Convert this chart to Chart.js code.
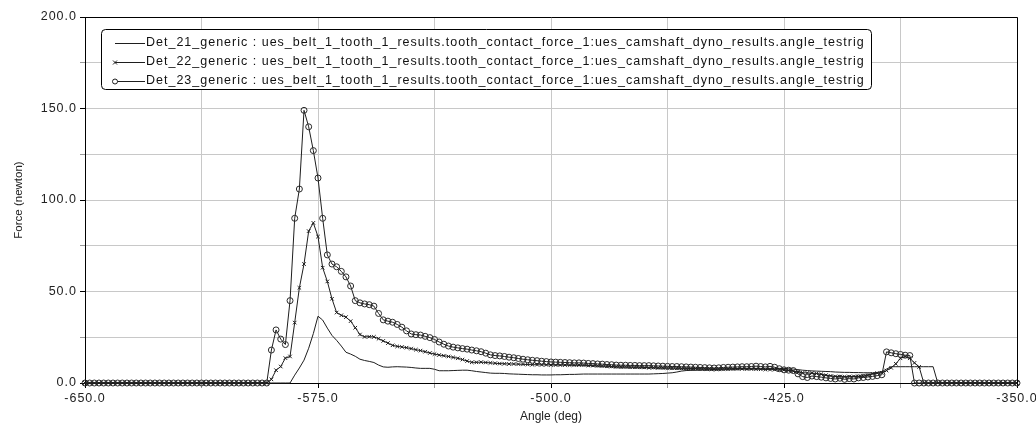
<!DOCTYPE html>
<html>
<head>
<meta charset="utf-8">
<script src="https://cdn.jsdelivr.net/npm/chart.js@4/dist/chart.umd.min.js"></script>
<style>
  html, body { margin: 0; padding: 0; background: #fff; }
  canvas { display: block; }
</style>
</head>
<body>
<canvas id="c" width="1036" height="430"></canvas>
<script>
// ---- data ----
const angles = [
  -650,-648.5,-647,-645.5,-644,-642.5,-641,-639.5,-638,-636.5,
  -635,-633.5,-632,-630.5,-629,-627.5,-626,-624.5,-623,-621.5,
  -620,-618.5,-617,-615.5,-614,-612.5,-611,-609.5,-608,-606.5,
  -605,-603.5,-602,-600.5,-599,-597.5,-596,-594.5,-593,-591.5,
  -590,-588.5,-587,-585.5,-584,-582.5,-581,-579.5,-578,-576.5,
  -575,-573.5,-572,-570.5,-569,-567.5,-566,-564.5,-563,-561.5,
  -560,-558.5,-557,-555.5,-554,-552.5,-551,-549.5,-548,-546.5,
  -545,-543.5,-542,-540.5,-539,-537.5,-536,-534.5,-533,-531.5,
  -530,-528.5,-527,-525.5,-524,-522.5,-521,-519.5,-518,-516.5,
  -515,-513.5,-512,-510.5,-509,-507.5,-506,-504.5,-503,-501.5,
  -500,-498.5,-497,-495.5,-494,-492.5,-491,-489.5,-488,-486.5,
  -485,-483.5,-482,-480.5,-479,-477.5,-476,-474.5,-473,-471.5,
  -470,-468.5,-467,-465.5,-464,-462.5,-461,-459.5,-458,-456.5,
  -455,-453.5,-452,-450.5,-449,-447.5,-446,-444.5,-443,-441.5,
  -440,-438.5,-437,-435.5,-434,-432.5,-431,-429.5,-428,-426.5,
  -425,-423.5,-422,-420.5,-419,-417.5,-416,-414.5,-413,-411.5,
  -410,-408.5,-407,-405.5,-404,-402.5,-401,-399.5,-398,-396.5,
  -395,-393.5,-392,-390.5,-389,-387.5,-386,-384.5,-383,-381.5,
  -380,-378.5,-377,-375.5,-374,-372.5,-371,-369.5,-368,-366.5,
  -365,-363.5,-362,-360.5,-359,-357.5,-356,-354.5,-353,-351.5,
  -350
];

const det21 = [
  0,0,0,0,0,0,0,0,0,0, 0,0,0,0,0,0,0,0,0,0,
  0,0,0,0,0,0,0,0,0,0, 0,0,0,0,0,0,0,0,0,0,
  0,0,0,0,0,4.3,8.2,12.5,19,27,
  36.5,34.4,30,26,23.3,20.2,16.8,15.8,14.6,13.0,
  12.3,11.8,11.2,9.8,8.8,8.6,8.8,8.9,8.8,8.7,
  8.5,8.2,8.0,8.0,8.0,7.5,6.7,6.7,6.7,6.8,
  6.9,7.0,7.0,6.7,6.3,6.0,5.7,5.4,5.3,5.3,
  5.2,5.0,4.9,4.8,4.7,4.6,4.5,4.5,4.4,4.4,
  4.4,4.5,4.5,4.6,4.7,4.7,4.8,4.9,4.9,4.9,
  4.9,4.9,4.9,4.9,4.9,4.9,4.9,4.9,4.9,4.9,
  4.9,4.9,5.0,5.1,5.2,5.4,5.6,6.0,6.5,6.8,
  6.9,7.0,7.1,7.2,7.3,7.4,7.5,7.6,7.7,7.8,
  7.9,8.0,8.0,8.0,8.0,8.0,8.0,8.0,8.0,8.0,
  8.0,7.8,7.6,7.3,7.0,6.8,6.6,6.5,6.4,6.3,
  6.2,6.0,5.9,5.8,5.8,5.7,5.7,5.6,5.6,5.5,
  5.8,6.2,7.6,8.9,8.9,8.9,8.9,8.9,8.9,8.9,
  8.9,8.9,8.9,0,0,0,0,0,0,0,
  0,0,0,0,0,0,0,0,0,0,
  0
];

const det22 = [
  0,0,0,0,0,0,0,0,0,0, 0,0,0,0,0,0,0,0,0,0,
  0,0,0,0,0,0,0,0,0,0, 0,0,0,0,0,0,0,0,0,0,
  2,7,9,13.6,14.5,33,52,65,83,87.5,
  80,63,55.5,46,38.5,37,36,33.8,30.2,26.5,
  25.2,25.3,25.2,24.2,23,21.8,20.6,20.0,19.7,19.3,
  18.8,18.2,17.7,17.1,16.4,15.8,15.3,14.9,14.5,14.0,
  13.5,12.8,12.0,11.3,11.3,11.4,11.2,11.0,10.8,10.6,
  10.5,10.4,10.4,10.3,10.2,10.1,10.0,10.0,9.9,9.9,
  9.8,9.8,9.8,9.8,9.8,9.8,9.8,9.8,9.6,9.5,
  9.4,9.3,9.2,9.0,8.9,8.8,8.8,8.7,8.6,8.6,
  8.5,8.4,8.4,8.3,8.3,8.2,8.2,8.1,8.0,8.0,
  7.9,7.9,7.8,7.8,7.8,7.7,7.7,7.7,7.7,7.7,
  7.7,7.7,7.6,7.6,7.5,7.5,7.4,7.3,7.3,7.2,
  7.1,6.8,6.4,6.0,5.6,5.5,5.4,5.2,4.8,4.3,
  3.9,3.6,3.5,3.4,3.5,3.6,3.5,3.7,4.2,5.0,
  5.4,5.6,6.8,8.3,10.5,13.5,14.5,13.5,11.0,8.8,
  0,0,0,0,0,0,0,0,0,0,
  0,0,0,0,0,0,0,0,0,0,
  0
];

const det23 = [
  0,0,0,0,0,0,0,0,0,0, 0,0,0,0,0,0,0,0,0,0,
  0,0,0,0,0,0,0,0,0,0, 0,0,0,0,0,0,0,0,0,0,
  18,29,24,21,45,90,106,149,140,127,
  112,90,70,65,63.5,61,58,53,45,43.8,
  43.2,42.8,42,38,34.5,33.8,33.2,32,30.5,28.5,
  26.8,26.4,26.2,25.5,24.8,23.8,22.4,21.2,20.2,19.6,
  19.2,18.8,18.5,18.0,17.6,17.1,16.3,15.4,15.0,14.8,
  14.5,14.1,13.8,13.4,13.0,12.7,12.4,12.2,11.9,11.7,
  11.5,11.4,11.3,11.2,11.1,11.0,11.0,10.9,10.7,10.6,
  10.4,10.3,10.1,10.0,9.8,9.7,9.7,9.6,9.6,9.5,
  9.5,9.5,9.4,9.3,9.2,9.1,9.0,9.0,8.9,8.8,
  8.7,8.6,8.5,8.4,8.3,8.2,8.3,8.5,8.6,8.7,
  8.8,8.9,8.9,9.0,9.2,9.0,8.8,9.1,8.6,7.8,
  7.2,7.0,6.8,5.0,3.5,3.0,3.8,3.5,3.2,2.8,
  2.5,2.2,2.6,2.0,2.4,2.2,2.8,3.0,3.3,3.6,
  4.0,4.5,17.0,16.5,16.0,15.6,15.2,15.0,0,0,
  0,0,0,0,0,0,0,0,0,0,
  0,0,0,0,0,0,0,0,0,0,
  0
];

const seriesLabels = [
  'Det_21_generic : ues_belt_1_tooth_1_results.tooth_contact_force_1:ues_camshaft_dyno_results.angle_testrig',
  'Det_22_generic : ues_belt_1_tooth_1_results.tooth_contact_force_1:ues_camshaft_dyno_results.angle_testrig',
  'Det_23_generic : ues_belt_1_tooth_1_results.tooth_contact_force_1:ues_camshaft_dyno_results.angle_testrig'
];
const xTickLabels = [-650, -575, -500, -425, -350];
const yTickLabels = [0, 50, 100, 150, 200];
const xTitle = 'Angle (deg)';
const yTitle = 'Force (newton)';

// ---- build ----
const toPts = vals => angles.map((a, i) => ({ x: a, y: vals[i] }));
const FONT = '"Liberation Sans", Arial, sans-serif';
const LINE = '#1e1e1e';
const SPACING = '1px';

const isLabeled = (v, list) => list.some(t => Math.abs(t - v) < 1e-6);

const frameLegend = {
  id: 'frameLegend',
  beforeDraw(chart) {
    // tick labels in the reference are drawn with a little letter spacing
    Object.values(chart.scales).forEach(s => {
      if (s._lsPatched) return;
      const orig = s.drawLabels.bind(s);
      s.drawLabels = function (area) {
        const c = this.ctx;
        c.save();
        c.letterSpacing = SPACING;
        orig(area);
        c.restore();
      };
      s._lsPatched = true;
    });
  },
  afterDraw(chart) {
    const c = chart.ctx;
    const a = chart.chartArea;
    c.save();
    // top and right frame
    c.strokeStyle = '#000';
    c.lineWidth = 1;
    c.beginPath();
    c.moveTo(Math.round(a.left) + 0.5, Math.round(a.top) + 0.5);
    c.lineTo(Math.round(a.right) + 0.5, Math.round(a.top) + 0.5);
    c.lineTo(Math.round(a.right) + 0.5, Math.round(a.bottom) + 0.5);
    c.stroke();

    // legend text metrics
    c.font = '12.5px ' + FONT;
    c.letterSpacing = SPACING;
    let maxW = 0;
    chart.data.datasets.forEach(ds => { maxW = Math.max(maxW, c.measureText(ds.label).width); });
    const textX = 146;

    // legend box
    const bx = 101.5, by = 29.5, bw = Math.round(textX + maxW + 6 - 101), bh = 60, r = 4;
    c.beginPath();
    c.moveTo(bx + r, by);
    c.lineTo(bx + bw - r, by);
    c.quadraticCurveTo(bx + bw, by, bx + bw, by + r);
    c.lineTo(bx + bw, by + bh - r);
    c.quadraticCurveTo(bx + bw, by + bh, bx + bw - r, by + bh);
    c.lineTo(bx + r, by + bh);
    c.quadraticCurveTo(bx, by + bh, bx, by + bh - r);
    c.lineTo(bx, by + r);
    c.quadraticCurveTo(bx, by, bx + r, by);
    c.closePath();
    c.fillStyle = '#fff';
    c.fill();
    c.strokeStyle = '#000';
    c.stroke();

    const rows = [43, 62, 81];
    chart.data.datasets.forEach((ds, i) => {
      const y = rows[i] + 0.5;
      c.strokeStyle = LINE;
      c.lineWidth = 1;
      c.beginPath();
      c.moveTo(115, y);
      c.lineTo(145, y);
      c.stroke();
      if (ds.pointStyle === 'crossRot') {
        c.beginPath();
        c.moveTo(113, y - 2); c.lineTo(117, y + 2);
        c.moveTo(113, y + 2); c.lineTo(117, y - 2);
        c.stroke();
      } else if (ds.pointStyle === 'circle' && ds.pointRadius > 0) {
        c.beginPath();
        c.arc(115, y, 2.5, 0, Math.PI * 2);
        c.fillStyle = '#fff';
        c.fill();
        c.stroke();
      }
      c.fillStyle = '#111';
      c.textBaseline = 'middle';
      c.textAlign = 'left';
      c.fillText(ds.label, textX, rows[i]);
    });
    c.restore();
  }
};

new Chart(document.getElementById('c'), {
  type: 'line',
  data: {
    datasets: [
      {
        label: seriesLabels[0],
        data: toPts(det21),
        borderColor: LINE, borderWidth: 1,
        pointRadius: 0, pointStyle: 'line',
        tension: 0, clip: false
      },
      {
        label: seriesLabels[1],
        data: toPts(det22),
        borderColor: LINE, borderWidth: 1,
        pointStyle: 'crossRot', pointRadius: 2.5,
        pointBorderColor: LINE, pointBorderWidth: 1,
        pointBackgroundColor: 'rgba(0,0,0,0)',
        tension: 0, clip: false
      },
      {
        label: seriesLabels[2],
        data: toPts(det23),
        borderColor: LINE, borderWidth: 1,
        pointStyle: 'circle', pointRadius: 3,
        pointBorderColor: '#2a2a2a', pointBorderWidth: 1,
        pointBackgroundColor: 'rgba(0,0,0,0)',
        tension: 0, clip: false
      }
    ]
  },
  options: {
    responsive: false,
    animation: false,
    devicePixelRatio: 1,
    events: [],
    layout: { padding: { top: 17, right: 19, left: 0, bottom: 0 } },
    plugins: {
      legend: { display: false },
      tooltip: { enabled: false }
    },
    font: { family: FONT },
    scales: {
      x: {
        type: 'linear',
        min: -650, max: -350,
        afterFit(s) { s.height = 47; s.paddingLeft = 0; s.paddingRight = 0; },
        ticks: {
          stepSize: 37.5,
          autoSkip: false,
          maxRotation: 0,
          padding: 3,
          color: '#222',
          font: { family: FONT, size: 12.5 },
          callback: v => isLabeled(v, xTickLabels) ? v.toFixed(1) : ''
        },
        grid: {
          color: '#c8c8c8',
          lineWidth: 1,
          tickLength: 5,
          tickColor: ctx => isLabeled(ctx.tick.value, xTickLabels) ? '#000' : '#999'
        },
        border: { display: true, color: '#000', width: 1 },
        title: {
          display: true, text: xTitle, color: '#222',
          font: { family: FONT, size: 12 },
          padding: { top: 0, bottom: 6 }
        }
      },
      y: {
        type: 'linear',
        min: 0, max: 200,
        afterFit(s) { s.width = 85; s.paddingTop = 0; s.paddingBottom = 0; },
        ticks: {
          stepSize: 25,
          autoSkip: false,
          padding: 3,
          color: '#222',
          font: { family: FONT, size: 12.5 },
          callback: v => isLabeled(v, yTickLabels) ? v.toFixed(1) : ''
        },
        grid: {
          color: '#c8c8c8',
          lineWidth: 1,
          tickLength: 5,
          tickColor: ctx => isLabeled(ctx.tick.value, yTickLabels) ? '#000' : '#999'
        },
        border: { display: true, color: '#000', width: 1 },
        title: {
          display: true, text: yTitle, color: '#222',
          font: { family: FONT, size: 11.5 },
          padding: { top: 12, bottom: 0 }
        }
      }
    }
  },
  plugins: [frameLegend]
});
</script>
</body>
</html>
